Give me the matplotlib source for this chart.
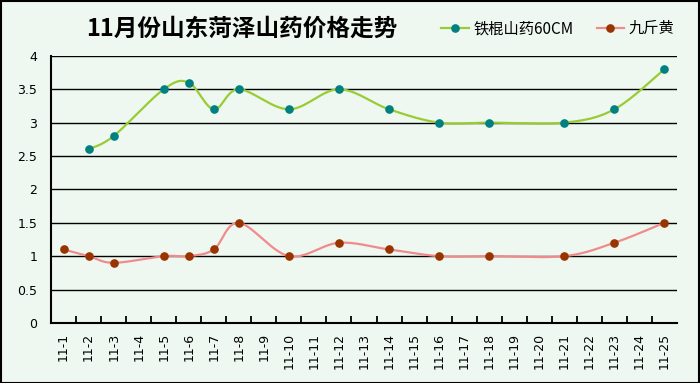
import numpy as np
import matplotlib
matplotlib.use('Agg')
import matplotlib.pyplot as plt
from matplotlib.lines import Line2D

plt.rcParams['font.family'] = ['Noto Sans CJK SC', 'DejaVu Sans']

DAYS = ["11-%d" % i for i in range(1, 26)]
# None = no quote that day
TIEGUN = [None, 2.6, 2.8, None, 3.5, 3.6, 3.2, 3.5, None, 3.2, None, 3.5, None, 3.2,
          None, 3.0, None, 3.0, None, None, 3.0, None, 3.2, None, 3.8]
JIUJIN = [1.1, 1.0, 0.9, None, 1.0, 1.0, 1.1, 1.5, None, 1.0, None, 1.2, None, 1.1,
          None, 1.0, None, 1.0, None, None, 1.0, None, 1.2, None, 1.5]
Y_TICKS = [0, 0.5, 1, 1.5, 2, 2.5, 3, 3.5, 4]

BG = '#EEF8F1'


def smooth(xs, ys, n=30):
    # excel style smoothed line: catmull-rom through the points
    px = np.array(xs, float)
    py = np.array(ys, float)
    outx, outy = [], []
    for i in range(len(px) - 1):
        i0 = max(i - 1, 0)
        i3 = min(i + 2, len(px) - 1)
        c1x = px[i] + (px[i + 1] - px[i0]) / 6
        c1y = py[i] + (py[i + 1] - py[i0]) / 6
        c2x = px[i + 1] - (px[i3] - px[i]) / 6
        c2y = py[i + 1] - (py[i3] - py[i]) / 6
        t = np.linspace(0, 1, n)
        a = (1 - t) ** 3
        b = 3 * (1 - t) ** 2 * t
        c = 3 * (1 - t) * t ** 2
        d = t ** 3
        outx.extend(a * px[i] + b * c1x + c * c2x + d * px[i + 1])
        outy.extend(a * py[i] + b * c1y + c * c2y + d * py[i + 1])
    return outx, outy


def draw(ax, vals, lc, mc):
    xs = [i for i, v in enumerate(vals) if v is not None]
    ys = [v for v in vals if v is not None]
    sx, sy = smooth(xs, ys)
    ax.plot(sx, sy, color=lc, lw=1.6, zorder=3)
    ax.plot(xs, ys, 'o', color=mc, ms=5.2, zorder=4)


fig = plt.figure(figsize=(7, 3.83), dpi=100, facecolor=BG)
fig.patches.append(plt.Rectangle((0.001, 0.001), 0.997, 0.996, transform=fig.transFigure,
                                 fill=False, edgecolor='black', lw=1.5))
ax = fig.add_axes([0.073, 0.157, 0.894, 0.697])
ax.set_facecolor(BG)

for y in Y_TICKS[1:]:
    ax.axhline(y, color='black', lw=1, zorder=1)

draw(ax, TIEGUN, '#99CC33', '#008080')
draw(ax, JIUJIN, '#EE8C8C', '#993300')

ax.set_xlim(-0.5, len(DAYS) - 0.5)
ax.set_ylim(0, 4)
ax.set_yticks(Y_TICKS)
ax.set_yticklabels(['0', '0.5', '1', '1.5', '2', '2.5', '3', '3.5', '4'], fontsize=9,
                   family='DejaVu Sans')
ax.tick_params(axis='y', length=0, pad=10)
ax.set_xticks(range(len(DAYS)))
ax.set_xticklabels(DAYS, rotation=90, fontsize=9, family='DejaVu Sans')
ax.tick_params(axis='x', length=0, pad=7)
ax.set_xticks(np.arange(0.5, len(DAYS) - 1, 1), minor=True)
ax.tick_params(axis='x', which='minor', direction='in', length=5, width=1.3, color='black')

for s in ['top', 'right']:
    ax.spines[s].set_visible(False)
ax.spines['left'].set_linewidth(1.5)
ax.spines['bottom'].set_linewidth(1.5)

fig.text(0.345, 0.925, '11月份山东菏泽山药价格走势', ha='center', va='center',
         fontsize=17, fontweight='bold')

handles = [
    Line2D([], [], color='#99CC33', lw=1.6, marker='o', mfc='#008080', mec='#008080', ms=5.2),
    Line2D([], [], color='#EE8C8C', lw=1.6, marker='o', mfc='#993300', mec='#993300', ms=5.2),
]
fig.legend(handles, ['铁棍山药60CM', '九斤黄'], ncol=2, frameon=False, fontsize=11,
           loc='center', bbox_to_anchor=(0.797, 0.925), handlelength=1.8,
           handletextpad=0.3, columnspacing=1.5)

fig.savefig('out.png', dpi=100, facecolor=BG)
